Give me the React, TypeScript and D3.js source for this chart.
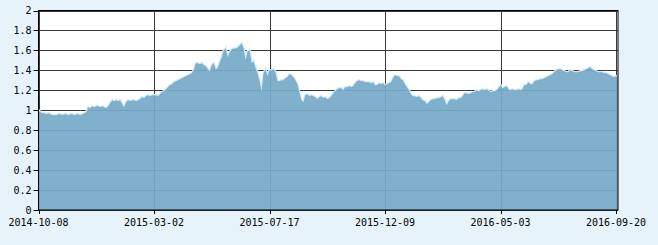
import React from "react";
import * as d3 from "d3";

// Series values (net value), one per sample index
const values: number[] = [
  1.00, 0.98, 0.97, 0.97, 0.96, 0.97, 0.96, 0.95, 0.95, 0.95,
  0.96, 0.96, 0.95, 0.96, 0.96, 0.95, 0.96, 0.96, 0.95, 0.96,
  0.96, 0.95, 0.96, 0.97, 0.98, 1.03, 1.02, 1.04, 1.03, 1.04,
  1.04, 1.03, 1.04, 1.03, 1.02, 1.04, 1.07, 1.10, 1.09, 1.10,
  1.09, 1.10, 1.06, 1.03, 1.08, 1.10, 1.09, 1.10, 1.10, 1.09,
  1.10, 1.11, 1.13, 1.12, 1.14, 1.15, 1.14, 1.15, 1.15, 1.15,
  1.14, 1.16, 1.18, 1.19, 1.21, 1.23, 1.25, 1.26, 1.28, 1.29,
  1.30, 1.31, 1.32, 1.33, 1.34, 1.35, 1.36, 1.37, 1.40, 1.47,
  1.47, 1.46, 1.47, 1.45, 1.44, 1.41, 1.39, 1.45, 1.47, 1.41,
  1.42, 1.48, 1.53, 1.60, 1.62, 1.53, 1.58, 1.61, 1.62, 1.62,
  1.63, 1.65, 1.67, 1.62, 1.50, 1.59, 1.60, 1.47, 1.49, 1.42,
  1.37, 1.29, 1.19, 1.37, 1.41, 1.34, 1.40, 1.40, 1.41, 1.38,
  1.29, 1.29, 1.30, 1.30, 1.32, 1.33, 1.36, 1.35, 1.33, 1.30,
  1.26, 1.18, 1.10, 1.08, 1.15, 1.16, 1.14, 1.15, 1.14, 1.13,
  1.11, 1.13, 1.14, 1.12, 1.13, 1.11, 1.12, 1.14, 1.17, 1.19,
  1.21, 1.22, 1.22, 1.20, 1.23, 1.23, 1.24, 1.23, 1.24, 1.27,
  1.29, 1.30, 1.29, 1.29, 1.28, 1.28, 1.28, 1.27, 1.28, 1.25,
  1.25, 1.27, 1.26, 1.27, 1.25, 1.26, 1.27, 1.28, 1.32, 1.35,
  1.34, 1.34, 1.31, 1.30, 1.26, 1.23, 1.20, 1.16, 1.14, 1.14,
  1.13, 1.14, 1.12, 1.10, 1.09, 1.06, 1.08, 1.10, 1.11, 1.11,
  1.12, 1.12, 1.13, 1.14, 1.10, 1.05, 1.09, 1.11, 1.11, 1.11,
  1.10, 1.12, 1.12, 1.14, 1.17, 1.17, 1.16, 1.17, 1.18, 1.18,
  1.20, 1.19, 1.20, 1.21, 1.20, 1.21, 1.20, 1.18, 1.19, 1.19,
  1.20, 1.22, 1.25, 1.22, 1.23, 1.24, 1.21, 1.20, 1.21, 1.20,
  1.20, 1.21, 1.20, 1.21, 1.25, 1.25, 1.28, 1.26, 1.26, 1.29,
  1.30, 1.30, 1.31, 1.31, 1.32, 1.33, 1.34, 1.35, 1.36, 1.38,
  1.40, 1.41, 1.41, 1.40, 1.39, 1.38, 1.38, 1.40, 1.39, 1.38,
  1.38, 1.38, 1.39, 1.39, 1.40, 1.41, 1.42, 1.43, 1.41, 1.40,
  1.39, 1.38, 1.38, 1.38, 1.37, 1.37, 1.36, 1.35, 1.34, 1.33,
  1.34, 1.34,
];

// X-axis tick labels and the sample indices they sit on
const tickLabels: string[] = ["2014-10-08", "2015-03-02", "2015-07-17", "2015-12-09", "2016-05-03", "2016-09-20"];
const tickIndices: number[] = [0, 58, 116, 174, 232, 290];

// Y-axis ticks
const yTicks: number[] = [0, 0.2, 0.4, 0.6, 0.8, 1, 1.2, 1.4, 1.6, 1.8, 2];

const W = 658;
const H = 245;
const left = 38.5;
const right = 618;
const top = 10.5;
const bottom = 210;

export default function App() {
  const x = d3.scaleLinear().domain([0, values.length - 1]).range([left, right]);
  const y = d3.scaleLinear().domain([0, 2]).range([bottom, top]);

  const area = d3
    .area<number>()
    .x((_, i) => x(i))
    .y0(y(0))
    .y1((d) => y(d));
  const line = d3
    .line<number>()
    .x((_, i) => x(i))
    .y((d) => y(d));

  const font = "'DejaVu Sans Mono', monospace";

  return (
    <svg
      width={W}
      height={H}
      style={{ position: "absolute", left: 0, top: 0, display: "block", background: "#e7f3fb" }}
    >
      <rect x={0} y={0} width={W} height={H} fill="#e7f3fb" />
      <rect x={left} y={top} width={right - left} height={bottom - top} fill="#ffffff" />
      {/* horizontal grid */}
      {yTicks.map((t) => (
        <line
          key={"h" + t}
          x1={left}
          x2={right}
          y1={Math.round(y(t)) + 0.5}
          y2={Math.round(y(t)) + 0.5}
          stroke="#3a3a3a"
          strokeWidth={1}
        />
      ))}
      {/* vertical grid */}
      {tickIndices.map((ti) => (
        <line
          key={"v" + ti}
          x1={Math.round(x(ti)) + 0.5}
          x2={Math.round(x(ti)) + 0.5}
          y1={top}
          y2={bottom}
          stroke="#3a3a3a"
          strokeWidth={1}
        />
      ))}
      {/* light edge of the area */}
      <path d={line(values) || ""} fill="none" stroke="#d6ebf7" strokeWidth={2.5} />
      <path d={area(values) || ""} fill="#76aac7" fillOpacity={0.93} />
      {/* frame */}
      <rect x={left} y={top} width={right - left} height={bottom - top} fill="none" stroke="#000" strokeWidth={1} />
      {/* y axis ticks & labels */}
      {yTicks.map((t) => (
        <g key={"yl" + t}>
          <line x1={left - 5} x2={left} y1={Math.round(y(t)) + 0.5} y2={Math.round(y(t)) + 0.5} stroke="#000" />
          <text
            x={left - 7}
            y={y(t)}
            dy="0.35em"
            textAnchor="end"
            fontFamily={font}
            fontSize={10}
            fill="#000"
          >
            {String(t)}
          </text>
        </g>
      ))}
      {/* x axis ticks & labels */}
      {tickIndices.map((ti, k) => (
        <g key={"xl" + ti}>
          <line
            x1={Math.round(x(ti)) + 0.5}
            x2={Math.round(x(ti)) + 0.5}
            y1={bottom}
            y2={bottom + 4}
            stroke="#000"
          />
          <text
            x={x(ti)}
            y={226}
            textAnchor="middle"
            fontFamily={font}
            fontSize={10}
            fill="#000"
          >
            {tickLabels[k]}
          </text>
        </g>
      ))}
    </svg>
  );
}
